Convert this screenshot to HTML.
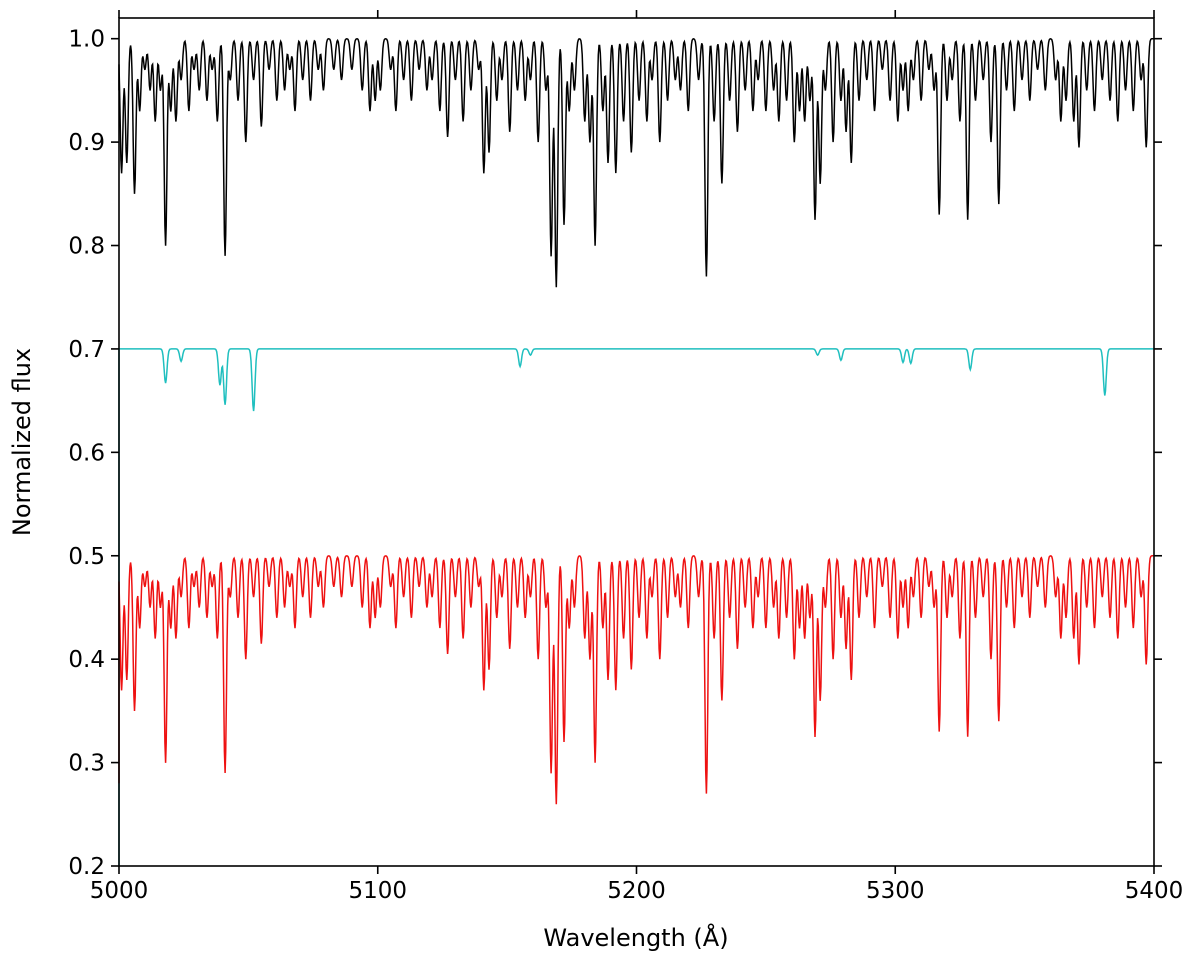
<!DOCTYPE html>
<html><head><meta charset="utf-8"><style>
html,body{margin:0;padding:0;background:#fff;}
svg text{font-family:"DejaVu Sans","Liberation Sans",sans-serif;fill:#000;}
</style></head><body>
<svg id="chart" width="1200" height="972" xmlns="http://www.w3.org/2000/svg">
<g id="series"></g>
<rect x="119" y="18" width="1035" height="848" fill="none" stroke="#000" stroke-width="1.6"/>
<g id="axes"></g>
<text x="636" y="946" font-size="24" text-anchor="middle">Wavelength (Å)</text>
<text transform="translate(30,442) rotate(-90)" font-size="24" text-anchor="middle">Normalized flux</text>
</svg>
<script>
const xTicks=[5000,5100,5200,5300,5400];
const yTicks=[0.2,0.3,0.4,0.5,0.6,0.7,0.8,0.9,1.0];
// observed spectrum absorption lines: wavelength, minimum flux
const obsWave=[5001,5003,5006,5008,5010,5012,5014,5016,5018,5020,5022,5024,5027,5029,5031,5034,5036,5038,5041,5043,5046,5049,5052,5055,5058,5061,5064,5066,5068,5071,5074,5077,5079,5083,5086,5090,5094,5097,5099,5101,5105,5107,5110,5113,5116,5119,5121,5124,5127,5130,5133,5136,5139,5141,5143,5146,5148,5151,5154,5157,5159,5162,5165,5167,5169,5172,5174,5176,5180,5182,5184,5187,5189,5192,5195,5198,5201,5204,5206,5209,5212,5215,5217,5220,5224,5227,5230,5233,5236,5239,5242,5245,5247,5250,5253,5255,5258,5261,5263,5265,5267,5269,5271,5273,5276,5279,5281,5283,5286,5289,5292,5295,5298,5301,5303,5305,5307,5310,5313,5315,5317,5320,5322,5325,5328,5331,5334,5337,5340,5343,5346,5349,5352,5355,5358,5362,5364,5366,5369,5371,5374,5377,5380,5383,5386,5389,5392,5395,5397];
const obsFlux=[0.87,0.88,0.85,0.93,0.97,0.95,0.92,0.95,0.80,0.93,0.92,0.96,0.93,0.97,0.95,0.94,0.97,0.92,0.79,0.96,0.94,0.90,0.96,0.915,0.97,0.94,0.95,0.97,0.93,0.96,0.94,0.97,0.95,0.97,0.96,0.97,0.95,0.93,0.94,0.95,0.97,0.93,0.96,0.94,0.97,0.95,0.96,0.93,0.905,0.96,0.92,0.95,0.97,0.87,0.89,0.94,0.96,0.91,0.95,0.94,0.96,0.90,0.95,0.79,0.76,0.82,0.93,0.95,0.92,0.90,0.80,0.93,0.88,0.87,0.92,0.89,0.94,0.92,0.96,0.90,0.94,0.96,0.95,0.93,0.96,0.77,0.92,0.86,0.94,0.91,0.95,0.93,0.96,0.93,0.95,0.92,0.94,0.90,0.93,0.92,0.94,0.825,0.86,0.95,0.90,0.94,0.91,0.88,0.94,0.96,0.93,0.97,0.94,0.92,0.95,0.93,0.96,0.94,0.97,0.95,0.83,0.94,0.96,0.92,0.825,0.94,0.96,0.90,0.84,0.95,0.93,0.96,0.94,0.97,0.95,0.96,0.92,0.94,0.92,0.895,0.95,0.93,0.96,0.94,0.92,0.95,0.93,0.96,0.895];
// telluric/cyan component lines
const telWave=[5018,5024,5039,5041,5052,5155,5159,5270,5279,5303,5306,5329,5381];
const telFlux=[0.667,0.688,0.665,0.646,0.640,0.683,0.694,0.694,0.689,0.687,0.686,0.680,0.655];
const obsContinuum=1.0, telContinuum=0.7, redOffset=0.5;

const X0=119,X1=1154,Y0=866,YT=18;
const xs=w=>X0+(w-5000)/400*(X1-X0);
const ys=f=>Y0-(f-0.2)/0.82*(Y0-YT);
const NS="http://www.w3.org/2000/svg";
function spectrum(waves,fluxes,cont,sig){
  const pts=[];
  for(let w=5000;w<=5400;w+=0.25){
    let f=cont;
    for(let i=0;i<waves.length;i++){const d=(w-waves[i])/sig;if(Math.abs(d)<5)f-=(cont-fluxes[i])*Math.exp(-0.5*d*d);}
    pts.push([w,f]);
  }
  return pts;
}
function drawLine(pts,color,name,startF){
  let d="M"+xs(5000).toFixed(1)+","+ys(startF).toFixed(1);
  pts.forEach(p=>{d+="L"+xs(p[0]).toFixed(1)+","+ys(p[1]).toFixed(1);});
  const p=document.createElementNS(NS,"path");
  p.setAttribute("d",d);p.setAttribute("fill","none");p.setAttribute("stroke",color);p.setAttribute("stroke-width","1.5");
  
  
  document.getElementById("series").appendChild(p);
}
const obs=spectrum(obsWave,obsFlux,obsContinuum,0.55);
drawLine(spectrum(telWave,telFlux,telContinuum,0.55),"#1fbfbf","telluric-spectrum-line",0.2);
drawLine(obs.map(p=>[p[0],p[1]-redOffset]),"#ee1111","corrected-spectrum-line",0.28);
drawLine(obs,"#000","observed-spectrum-line",0.95);
const ax=document.getElementById("axes");
function tick(x1,y1,x2,y2){const l=document.createElementNS(NS,"line");l.setAttribute("x1",x1);l.setAttribute("y1",y1);l.setAttribute("x2",x2);l.setAttribute("y2",y2);l.setAttribute("stroke","#000");l.setAttribute("stroke-width","1.6");


ax.appendChild(l);}
function label(x,y,t,anchor,name){const e=document.createElementNS(NS,"text");e.setAttribute("x",x);e.setAttribute("y",y);e.setAttribute("font-size","23");e.setAttribute("text-anchor",anchor);e.textContent=t;


ax.appendChild(e);}
xTicks.forEach(t=>{const x=xs(t);tick(x,Y0,x,Y0+8);tick(x,YT,x,YT-8);label(x,Y0+32,String(t),"middle","x-tick-label");});
yTicks.forEach(t=>{const y=ys(t);tick(X0,y,X0-8,y);tick(X1,y,X1+8,y);label(X0-14,y+8,t.toFixed(1),"end","y-tick-label");});
</script>
</body></html>
